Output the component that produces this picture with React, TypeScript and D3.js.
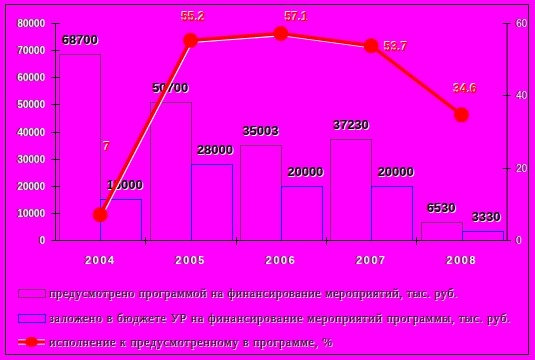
import React from 'react';
import * as d3 from 'd3';

const years = ['2004', '2005', '2006', '2007', '2008'];
const planned = [68700, 50700, 35003, 37230, 6530];
const budget = [15000, 28000, 20000, 20000, 3330];
const execution = [7, 55.2, 57.1, 53.7, 34.6];
const leftTicks = [0, 10000, 20000, 30000, 40000, 50000, 60000, 70000, 80000];
const rightTicks = [0, 20, 40, 60];
const legendLabels = [
  'предусмотрено программой на финансирование мероприятий, тыс. руб.',
  'заложено в бюджете УР на финансирование мероприятий программы, тыс. руб.',
  'исполнение к предусмотренному в программе, %',
];
// label placement tweaks for the line values (style only)
const lineLabelDx = [7, 3, 16, 25, 4];
const lineLabelDy = [-69, -24, -17, 0, -27];

const W = 535, H = 360;
const BG = '#ff00ff';
const PINK = '#7a3a6a';
const BLUE = '#0000ff';
const RED = '#ff0000';

function Shadow({ x, y, text, fill, shadow, dx = 1, dy = 1, anchor = 'middle', size = 12, weight = 'bold', family = 'Liberation Sans, Arial, sans-serif', ls = 0, textLength }: any) {
  const common: any = { textAnchor: anchor, fontSize: size, fontWeight: weight, fontFamily: family, letterSpacing: ls };
  if (textLength) { common.textLength = textLength; common.lengthAdjust = 'spacing'; }
  return (
    <g>
      <text x={x + dx} y={y + dy} fill={shadow} {...common}>{text}</text>
      <text x={x} y={y} fill={fill} {...common}>{text}</text>
    </g>
  );
}

export default function App() {
  React.useEffect(() => { document.body.style.margin = '0'; }, []);
  const left = 55, right = 506.7, top = 23, bottom = 240;
  const x = d3.scaleBand<string>().domain(years).range([left, right]).paddingInner(0).paddingOuter(0);
  const yL = d3.scaleLinear().domain([0, 80000]).range([bottom, top]);
  const yR = d3.scaleLinear().domain([0, 60]).range([bottom, top]);
  const bw = x.bandwidth();
  const pad = 4.3;
  const barW = (bw - 2 * pad) / 2;
  const cx = (y: string) => (x(y) as number) + bw / 2;
  const line = d3.line<number>().x((_, i) => cx(years[i])).y((d) => yR(d));
  const pathD = line(execution) as string;
  const boundaries = years.map((y) => x(y) as number).concat([right]);

  return (
    <svg width={W} height={H} style={{ display: 'block', position: 'absolute', left: 0, top: 0 }}>
      <rect x={0} y={0} width={W} height={H} fill={BG} />
      <rect x={5.5} y={4.5} width={523} height={350} fill="none" stroke="#000" strokeWidth={1} />

      {/* bars */}
      {years.map((yr, i) => {
        const x0 = (x(yr) as number) + pad;
        return (
          <g key={yr}>
            <rect x={Math.round(x0) + 0.5} y={Math.round(yL(planned[i])) + 0.5} width={Math.round(barW)} height={bottom - Math.round(yL(planned[i]))} fill="none" stroke={PINK} strokeWidth={1} />
            <rect x={Math.round(x0 + barW) + 0.5} y={Math.round(yL(budget[i])) + 0.5} width={Math.round(barW)} height={bottom - Math.round(yL(budget[i]))} fill="none" stroke={BLUE} strokeWidth={1} />
          </g>
        );
      })}

      {/* left axis */}
      <line x1={left + 0.5} x2={left + 0.5} y1={top} y2={bottom} stroke="#000" />
      {leftTicks.map((t) => (
        <g key={t}>
          <line x1={left - 4} x2={left + 5} y1={Math.round(yL(t)) + 0.5} y2={Math.round(yL(t)) + 0.5} stroke="#000" />
          <Shadow x={45} y={yL(t) + 4} text={String(t)} fill="#fff" shadow="#000" dx={-1} dy={0} anchor="end" size={10} weight="bold" />
        </g>
      ))}

      {/* right axis */}
      <line x1={right + 0.5} x2={right + 0.5} y1={top} y2={bottom} stroke="#000" />
      {rightTicks.map((t) => (
        <g key={t}>
          <line x1={right - 4} x2={right + 4} y1={Math.round(yR(t)) + 0.5} y2={Math.round(yR(t)) + 0.5} stroke="#000" />
          <Shadow x={516} y={yR(t) + 4} text={String(t)} fill="#fff" shadow="#000" dx={-1} dy={0} anchor="start" size={10} weight="normal" />
        </g>
      ))}

      {/* bottom axis */}
      <line x1={left - 4} x2={right + 4} y1={bottom + 0.5} y2={bottom + 0.5} stroke="#000" />
      {boundaries.slice(1, -1).map((b, i) => (
        <line key={i} x1={Math.round(b) + 0.5} x2={Math.round(b) + 0.5} y1={bottom - 3} y2={bottom + 5} stroke="#000" />
      ))}
      {years.map((yr) => (
        <Shadow key={yr} x={cx(yr)} y={264} text={yr} fill="#fff" shadow="#000" dx={-1} dy={0} size={11} weight="bold" ls={1.5} />
      ))}

      {/* bar labels */}
      {years.map((yr, i) => {
        const x0 = (x(yr) as number) + pad;
        return (
          <g key={'l' + yr}>
            <Shadow x={x0 + barW / 2} y={yL(planned[i]) - 10} text={String(planned[i])} fill="#000" shadow="#fff" size={13} />
            <Shadow x={x0 + barW * 1.5 + 4} y={yL(budget[i]) - 10} text={String(budget[i])} fill="#000" shadow="#fff" size={13} />
          </g>
        );
      })}

      {/* line */}
      <path d={pathD} fill="none" stroke="#fff" strokeWidth={1.5} transform="translate(1.5,2)" />
      <path d={pathD} fill="none" stroke={RED} strokeWidth={3.5} />
      {execution.map((v, i) => (
        <circle key={i} cx={cx(years[i])} cy={yR(v)} r={7.5} fill={RED} />
      ))}
      {execution.map((v, i) => (
        <Shadow key={'e' + i} x={cx(years[i]) + lineLabelDx[i]} y={yR(v) + lineLabelDy[i] + 5} text={String(v)} fill={RED} shadow="#fff" dx={-1} dy={-1} size={12} />
      ))}

      {/* legend */}
      <rect x={18.5} y={289.5} width={27} height={8} fill="none" stroke={PINK} />
      <rect x={18.5} y={314.5} width={27} height={8} fill="none" stroke={BLUE} />
      <line x1={18} x2={45} y1={340} y2={340} stroke="#fff" strokeWidth={1.2} />
      <line x1={18} x2={45} y1={344} y2={344} stroke="#fff" strokeWidth={1.2} />
      <line x1={18} x2={45} y1={342} y2={342} stroke={RED} strokeWidth={3} />
      <ellipse cx={31.5} cy={342} rx={6.5} ry={5} fill={RED} />
      {legendLabels.map((t, i) => (
        <Shadow key={t} x={49} y={297 + i * 24.5} text={t} fill="#000" shadow="#fff" anchor="start" size={12} weight="normal" family="Liberation Serif, Times New Roman, serif" textLength={[408, 461, 283][i]} />
      ))}
    </svg>
  );
}
